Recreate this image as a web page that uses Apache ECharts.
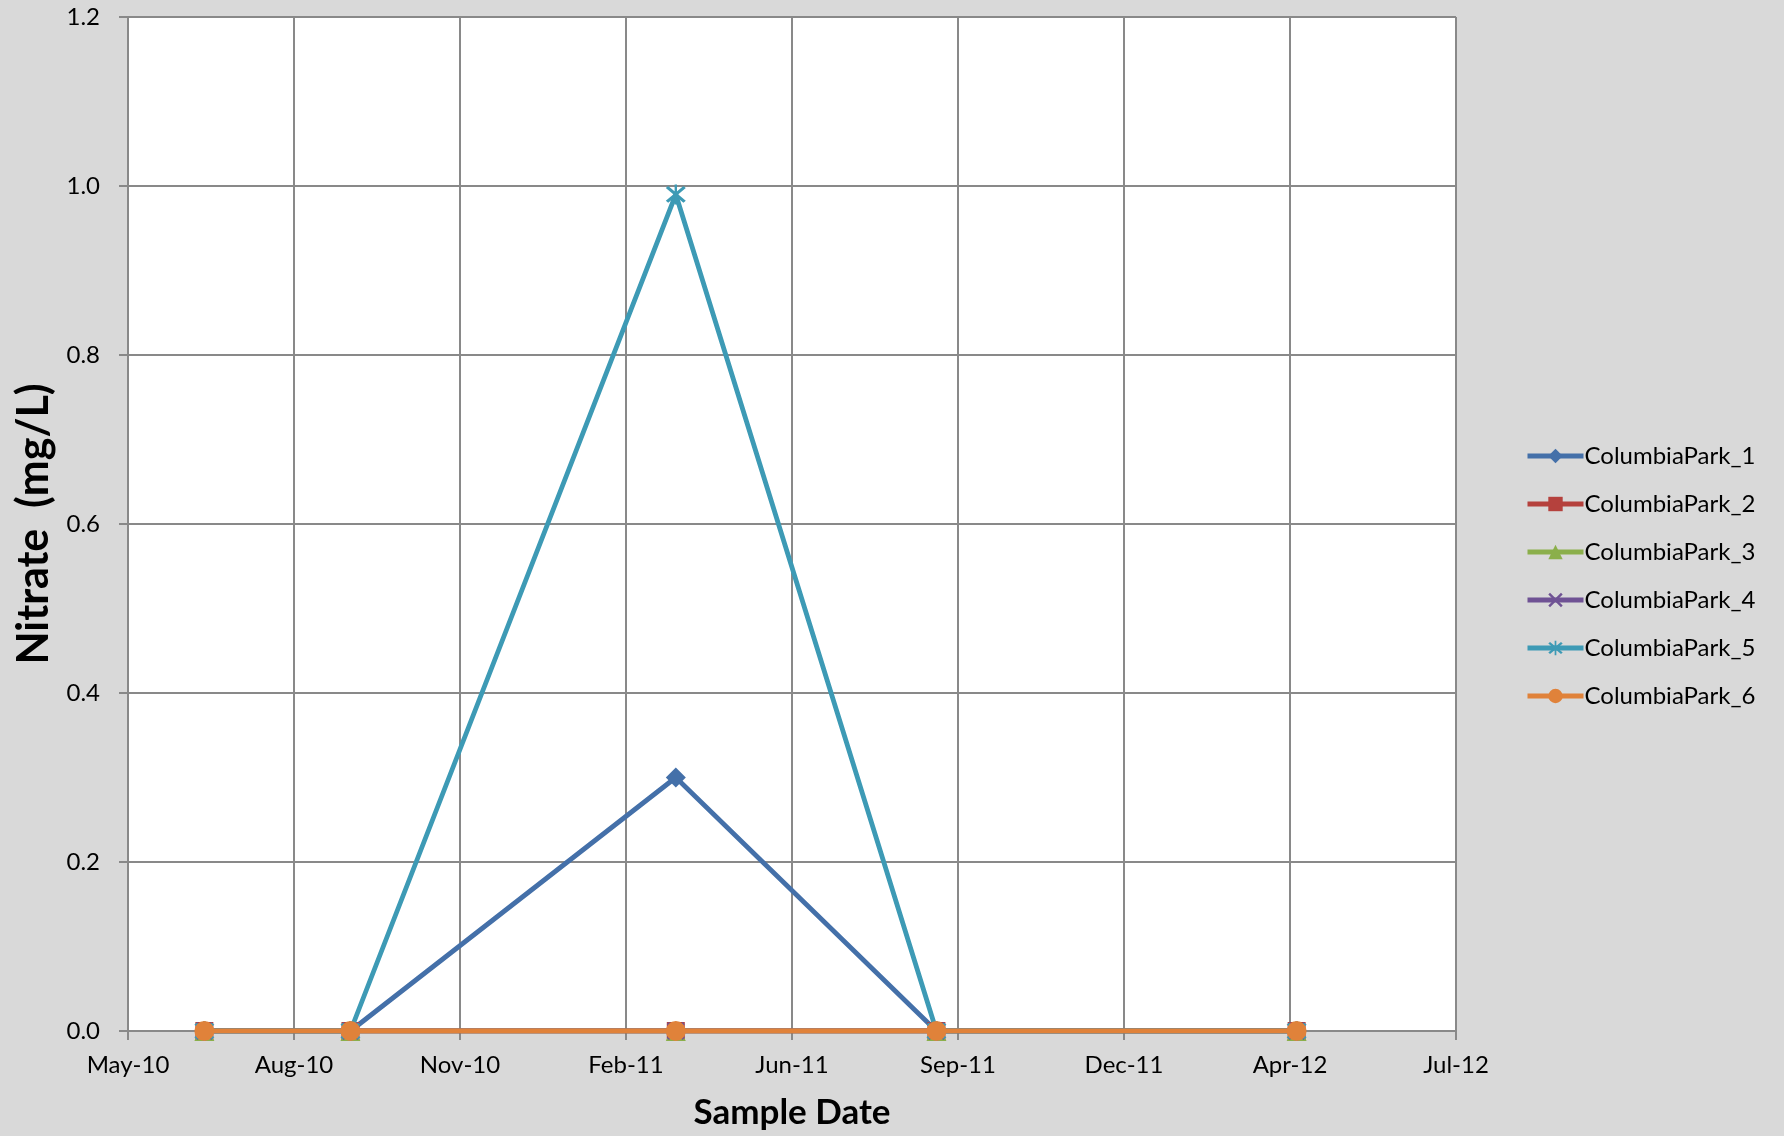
<!DOCTYPE html>
<html>
<head>
<meta charset="utf-8">
<script src="https://cdn.jsdelivr.net/npm/echarts@6/dist/echarts.min.js"></script>
<style>
html,body{margin:0;padding:0;background:#D9D9D9;}
#chart{width:1784px;height:1136px;}
</style>
</head>
<body>
<div id="chart"></div>
<script>
// ---- data ----
const sampleDates = ['2010-06-17', '2010-09-13', '2011-03-28', '2011-09-01', '2012-04-05'];
const seriesNames = ['ColumbiaPark_1', 'ColumbiaPark_2', 'ColumbiaPark_3', 'ColumbiaPark_4', 'ColumbiaPark_5', 'ColumbiaPark_6'];
const cp1 = [0, 0, 0.30, 0, 0];
const cp2 = [0, 0, 0, 0, 0];
const cp3 = [0, 0, 0, 0, 0];
const cp4 = [0, 0, 0, 0, 0];
const cp5 = [0, 0, 0.99, 0, 0];
const cp6 = [0, 0, 0, 0, 0];
const yTicks = ['0.0', '0.2', '0.4', '0.6', '0.8', '1.0', '1.2'];
const monthNames = ['Jan','Feb','Mar','Apr','May','Jun','Jul','Aug','Sep','Oct','Nov','Dec'];

// Excel-style day serial
const EPOCH = Date.UTC(1899, 11, 30);
function toSerial(s) {
  const p = s.split('-').map(Number);
  return Math.round((Date.UTC(p[0], p[1] - 1, p[2]) - EPOCH) / 86400000);
}
function serialLabel(v) {
  const d = new Date(EPOCH + v * 86400000);
  return monthNames[d.getUTCMonth()] + '-' + String(d.getUTCFullYear()).slice(2);
}

const colors = ['#4470A9', '#B5413D', '#8BAF4B', '#6F5294', '#3D9AB5', '#E0823A'];
const X_PATH = 'path://M0,1.2L1.2,0L10,8.8L8.8,10Z M8.8,0L10,1.2L1.2,10L0,8.8Z';
const STAR_PATH = 'path://M0,1.2L1.2,0L10,8.8L8.8,10Z M8.8,0L10,1.2L1.2,10L0,8.8Z M4.4,-1L5.6,-1L5.6,11L4.4,11Z';
const symbols = ['diamond', 'rect', 'triangle', X_PATH, STAR_PATH, 'circle'];
const sizes = [20, 18, 20, 18, 20, 20];
const values = [cp1, cp2, cp3, cp4, cp5, cp6];

const FONT = 'Lato, "Open Sans", sans-serif';

const series = seriesNames.map((name, i) => ({
  name: name,
  type: 'line',
  data: sampleDates.map((d, j) => [toSerial(d), values[i][j]]),
  symbol: symbols[i],
  symbolSize: sizes[i],
  showAllSymbol: true,
  lineStyle: { color: colors[i], width: 4.8 },
  itemStyle: { color: colors[i] },
  z: 2 + i,
  animation: false
}));

const chart = echarts.init(document.getElementById('chart'), null, { renderer: 'canvas' });
chart.setOption({
  backgroundColor: '#D9D9D9',
  animation: false,
  grid: {
    left: 128, top: 17, width: 1328, height: 1014,
    show: true, backgroundColor: '#FFFFFF', borderWidth: 0
  },
  legend: {
    orient: 'vertical',
    left: 1520,
    top: 437,
    itemWidth: 56,
    itemHeight: 18,
    itemGap: 20,
    lineStyle: { width: 5 },
    textStyle: { fontFamily: FONT, fontSize: 24, color: '#000', lineHeight: 28, padding: [0, 0, 0, -4] },
    data: seriesNames
  },
  xAxis: {
    type: 'value',
    min: 40300,
    max: 41100,
    interval: 100,
    name: 'Sample Date',
    nameLocation: 'middle',
    nameGap: 64,
    nameTextStyle: { fontFamily: FONT, fontSize: 35, fontWeight: 'bold', color: '#000' },
    axisLine: { show: true, onZero: false, lineStyle: { color: '#898989', width: 2 } },
    axisTick: { show: true, length: 9, lineStyle: { color: '#898989', width: 2 } },
    axisLabel: { fontFamily: FONT, fontSize: 24, color: '#000', margin: 22, formatter: serialLabel },
    splitLine: { show: true, lineStyle: { color: '#898989', width: 2 } }
  },
  yAxis: {
    type: 'value',
    min: 0,
    max: 1.2,
    interval: 0.2,
    name: 'Nitrate  (mg/L)',
    nameLocation: 'middle',
    nameRotate: 90,
    nameGap: 72,
    nameTextStyle: { fontFamily: FONT, fontSize: 43, fontWeight: 'bold', color: '#000' },
    axisLine: { show: true, lineStyle: { color: '#898989', width: 2 } },
    axisTick: { show: true, length: 9, lineStyle: { color: '#898989', width: 2 } },
    axisLabel: {
      fontFamily: FONT, fontSize: 24, color: '#000', margin: 28,
      formatter: function (v) { return yTicks[Math.round(v / 0.2)]; }
    },
    splitLine: { show: true, lineStyle: { color: '#898989', width: 2 } }
  },
  series: series
});
</script>
</body>
</html>
